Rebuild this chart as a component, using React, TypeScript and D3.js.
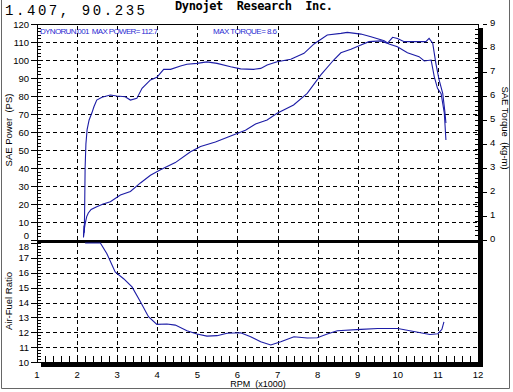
import React from 'react';
import * as d3 from 'd3';

// axis ticks
const rpmTicks = [1, 2, 3, 4, 5, 6, 7, 8, 9, 10, 11, 12];
const powerTicks = [0, 10, 20, 30, 40, 50, 60, 70, 80, 90, 100, 110, 120];
const torqueTicks = [0, 1, 2, 3, 4, 5, 6, 7, 8, 9];
const afrTicks = [10, 11, 12, 13, 14, 15, 16, 17, 18];

// SAE power (PS) vs rpm (x1000)
const powerRpm = [2.16, 2.18, 2.2, 2.24, 2.28, 2.35, 2.49, 2.65, 2.83, 3.08, 3.33, 3.58, 3.83, 4.08, 4.45, 4.83, 5.08, 5.45, 5.83, 6.2, 6.45, 6.74, 6.99, 7.4, 7.74, 8.08, 8.4, 8.58, 8.83, 9.08, 9.28, 9.58, 9.74, 9.87, 9.99, 10.16, 10.49, 10.7, 10.78, 10.87, 10.95, 11.03, 11.12, 11.17, 11.2];
const powerPs = [2, 6, 9, 13, 15, 17, 18.5, 20, 21.3, 25, 27, 31.7, 36, 39, 43, 49, 52, 54.4, 57.8, 61, 64.4, 66.7, 70.4, 75, 81.5, 91.7, 100, 104, 106, 108.3, 110.2, 110.6, 109.3, 112.6, 112, 110.2, 110.2, 110.2, 112, 109.3, 98, 89, 81.5, 72, 65];

// SAE torque (kg-m)
const torqueRpm = [2.16, 2.17, 2.18, 2.19, 2.2, 2.22, 2.25, 2.3, 2.37, 2.42, 2.49, 2.62, 2.83, 2.99, 3.2, 3.33, 3.49, 3.62, 3.83, 3.99, 4.16, 4.33, 4.58, 4.74, 4.99, 5.24, 5.49, 5.83, 6.08, 6.4, 6.58, 6.74, 6.99, 7.33, 7.66, 7.91, 8.24, 8.58, 8.74, 9.08, 9.33, 9.66, 9.78, 9.99, 10.24, 10.53, 10.66, 10.83, 10.91, 10.99, 11.08, 11.16, 11.2];
const torqueKgm = [0.1, 0.6, 0.3, 1.5, 3.0, 4.0, 4.6, 5.0, 5.3, 5.55, 5.83, 5.95, 6.04, 6.0, 5.97, 5.83, 5.9, 6.32, 6.67, 6.78, 7.11, 7.11, 7.25, 7.32, 7.36, 7.42, 7.36, 7.22, 7.13, 7.11, 7.15, 7.29, 7.43, 7.53, 7.78, 8.17, 8.54, 8.61, 8.65, 8.58, 8.47, 8.3, 8.17, 8.05, 7.8, 7.64, 7.46, 7.5, 6.8, 6.32, 6.1, 5.28, 4.17];

// air-fuel ratio
const afrRpm = [2.2, 2.58, 2.74, 2.95, 3.16, 3.37, 3.58, 3.78, 3.99, 4.24, 4.45, 4.74, 4.99, 5.24, 5.49, 5.74, 6.08, 6.33, 6.58, 6.83, 7.08, 7.41, 7.74, 7.99, 8.24, 8.49, 9.08, 9.5, 10.0, 10.5, 10.8, 11.0, 11.1, 11.15];
const afrRatio = [18, 18, 17.3, 16.06, 15.6, 15.05, 14.05, 13.04, 12.53, 12.55, 12.48, 12.1, 11.88, 11.74, 11.77, 11.93, 11.97, 11.7, 11.36, 11.14, 11.36, 11.7, 11.61, 11.63, 11.88, 12.1, 12.19, 12.25, 12.25, 12.0, 11.85, 11.9, 12.2, 12.7];

const W = 513, H = 392;
const L = 37, R = 478, T = 24, B = 362;
const ZERO = 240;

const tickFont = "'Liberation Sans', Arial, sans-serif";
const curve = '#1c1ca6';
const note = '#2a2ad2';

// dashed grid lines built as short segments
const hDash = (y: number) => d3.range(L + 2, R - 2, 7).map(s => `M${s},${y}h${Math.min(4, R - s)}`).join('');
const vDash = (xv: number) => d3.range(T + 2, B - 2, 7).map(s => `M${xv},${s}v${Math.min(4, B - s)}`).join('');

const App = () => {
  const x = d3.scaleLinear().domain([1, 12]).range([L, R]);
  const yP = d3.scaleLinear().domain([0, 120]).range([ZERO, T]);
  const yT = d3.scaleLinear().domain([0, 9]).range([ZERO, T]);
  const yA = d3.scaleLinear().domain([10, 18]).range([B, 243]);
  const px = (v: number) => Math.round(v) + 0.5;

  const lineGen = d3.line<[number, number]>().x(d => d[0]).y(d => d[1]);
  const powerPath = lineGen(powerRpm.map((r, i) => [x(r), yP(powerPs[i])]));
  const torquePath = lineGen(torqueRpm.map((r, i) => [x(r), yT(torqueKgm[i])]));
  const afrPath = lineGen(afrRpm.map((r, i) => [x(r), yA(afrRatio[i])]));

  const gridD = [
    ...powerTicks.filter(t => t > 0 && t < 120).map(t => hDash(px(yP(t)))),
    ...afrTicks.filter(t => t > 10 && t < 18).map(t => hDash(px(yA(t)))),
    ...rpmTicks.filter(t => t > 1 && t < 12).map(t => vDash(px(x(t)))),
  ].join('');

  return (
    <svg width={W} height={H} style={{ position: 'absolute', left: 0, top: 0, background: '#fff' }}>
      {/* outer frame */}
      <path d="M1.5,0V388.5H509.5V0" fill="none" stroke="#666" />

      {/* header */}
      <text x={5} y={15} fontFamily="'Liberation Mono', 'DejaVu Sans Mono', monospace" fontSize={14}
        textLength={140} lengthAdjust="spacing">1.407, 90.235</text>
      <text x={175} y={10} fontFamily="'DejaVu Sans Mono', monospace" fontWeight="bold" fontSize={12}
        textLength={158} lengthAdjust="spacing" xmlSpace="preserve">Dynojet  Research  Inc.</text>

      {/* shadow */}
      <rect x={R} y={T + 4} width={5} height={B - T + 1} fill="#000" />
      <rect x={L + 4} y={B} width={R - L + 1} height={5} fill="#000" />

      {/* grid */}
      <path d={gridD} fill="none" stroke="#000" strokeWidth={1} />

      {/* plot frame and divider */}
      <rect x={L + 0.5} y={T + 0.5} width={R - L} height={B - T} fill="none" stroke="#000" />
      <rect x={L} y={ZERO} width={R - L} height={3} fill="#000" />

      {/* minor ticks */}
      {d3.range(0, 120.01, 2).map(t => (
        <line key={'mp' + t} x1={L} x2={L + 4} y1={px(yP(t))} y2={px(yP(t))} stroke="#000" />
      ))}
      {d3.range(10, 18.01, 0.2).map(t => (
        <line key={'ma' + t} x1={L} x2={L + 4} y1={px(yA(t))} y2={px(yA(t))} stroke="#000" />
      ))}
      {d3.range(1, 12.01, 0.2).map(t => (
        <line key={'mx' + t} x1={px(x(t))} x2={px(x(t))} y1={B - 6} y2={B} stroke="#000" />
      ))}
      {d3.range(0, 9.01, 0.2).map(t => (
        <line key={'mt' + t} x1={R - 3} x2={R} y1={px(yT(t))} y2={px(yT(t))} stroke="#000" />
      ))}

      {/* left axis labels */}
      {powerTicks.map(t => (
        <g key={'lp' + t}>
          <line x1={31} x2={L} y1={px(yP(t))} y2={px(yP(t))} stroke="#000" />
          <text x={29} y={yP(t) + (t === 0 ? -1 : 3.5)} textAnchor="end" fontFamily={tickFont} fontSize={9.5}>{t}</text>
        </g>
      ))}
      {afrTicks.map(t => (
        <g key={'la' + t}>
          <line x1={31} x2={L} y1={px(yA(t))} y2={px(yA(t))} stroke="#000" />
          <text x={29} y={yA(t) + (t === 18 ? 6.5 : 3.5)} textAnchor="end" fontFamily={tickFont} fontSize={9.5}>{t}</text>
        </g>
      ))}

      {/* right axis labels */}
      {torqueTicks.map(t => (
        <g key={'rt' + t}>
          <line x1={R + 5} x2={R + 9} y1={px(yT(t))} y2={px(yT(t))} stroke="#000" />
          <text x={490} y={yT(t) + 2} fontFamily={tickFont} fontSize={9.5}>{t}</text>
        </g>
      ))}

      {/* bottom axis labels */}
      {rpmTicks.map(t => (
        <text key={'bx' + t} x={x(t)} y={378} textAnchor="middle" fontFamily={tickFont} fontSize={9.5}>{t}</text>
      ))}
      <text x={258} y={387} textAnchor="middle" fontFamily={tickFont} fontSize={9} xmlSpace="preserve">RPM  (x1000)</text>

      {/* axis titles */}
      <text transform="translate(12,130) rotate(-90)" textAnchor="middle" fontFamily={tickFont} fontSize={9.5} xmlSpace="preserve">SAE Power  (PS)</text>
      <text transform="translate(12,301) rotate(-90)" textAnchor="middle" fontFamily={tickFont} fontSize={9.5}>Air-Fuel Ratio</text>
      <text transform="translate(502,128) rotate(90)" textAnchor="middle" fontFamily={tickFont} fontSize={9.5} xmlSpace="preserve">SAE Torque  (kg-m)</text>

      {/* run notes */}
      <text x={40} y={34} fill={note} fontFamily={tickFont} fontSize={8} textLength={118} lengthAdjust="spacing" xmlSpace="preserve">DYNORUN.001  MAX POWER= 112.7</text>
      <text x={213} y={34} fill={note} fontFamily={tickFont} fontSize={8} textLength={64} lengthAdjust="spacing">MAX TORQUE= 8.6</text>

      {/* curves */}
      <path d={powerPath ?? ''} fill="none" stroke={curve} strokeWidth={1.1} />
      <path d={torquePath ?? ''} fill="none" stroke={curve} strokeWidth={1.1} />
      <path d={afrPath ?? ''} fill="none" stroke={curve} strokeWidth={1.1} />
    </svg>
  );
};

export default App;
